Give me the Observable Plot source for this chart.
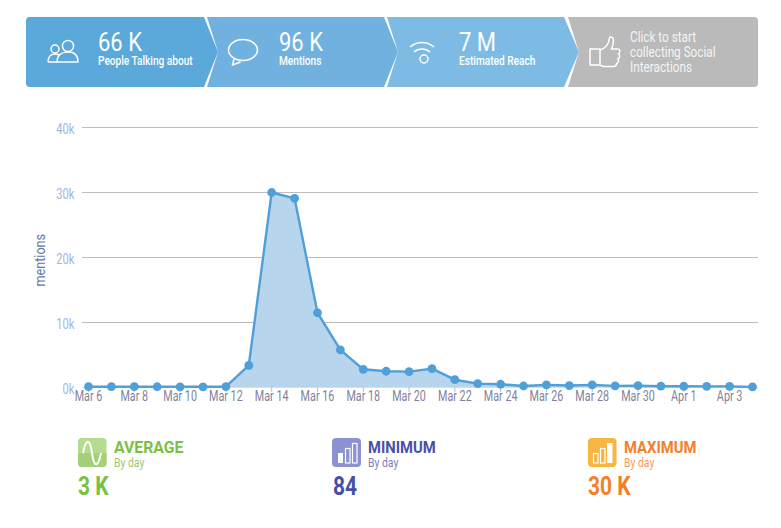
<!DOCTYPE html>
<html><head><meta charset="utf-8">
<script src="https://cdn.jsdelivr.net/npm/d3@7"></script>
<script src="https://cdn.jsdelivr.net/npm/@observablehq/plot@0.6"></script>
<style>
html,body{margin:0;padding:0;background:#fff;width:781px;height:528px;overflow:hidden}
body{position:relative;font-family:"Roboto",sans-serif}
.a{position:absolute;white-space:nowrap;line-height:1;transform-origin:left top}
svg.deco{position:absolute;overflow:visible}
#chart{position:absolute;left:0;top:100px}
.big{color:#fff;font-size:25px;line-height:21px;font-weight:400;transform:scaleX(.88)}
.small{color:#fff;font-size:13.5px;font-weight:500;transform:scaleX(.75)}
.cta{color:#f4f4f4;font-size:14.5px;line-height:15px;transform:scaleX(.81)}
.st{font-size:17px;line-height:15px;font-weight:700}
.by{font-size:13px;transform:scaleX(.8)}
.num{font-size:25px;font-weight:700;transform:scaleX(.84)}
</style></head><body>
<svg class="deco" style="left:0;top:0" width="781" height="100" aria-hidden="true">
  <path d="M568 17H754a4 4 0 0 1 4 4V83a4 4 0 0 1-4 4H568L579 52Z" fill="#bababa" stroke="none"/>
  <path d="M387 17H564L579 52L564 87H387L398 52Z" fill="#7dbbe5"/>
  <path d="M207 17H384L398 52L384 87H207L218 52Z" fill="#70b1df"/>
  <path d="M30 17H204L218 52L204 87H30a4 4 0 0 1-4-4V21a4 4 0 0 1 4-4Z" fill="#5ba8da"/>
  <g fill="none" stroke="#fff" stroke-width="1.500">
    <circle cx="68" cy="46" r="5.600"/><path d="M57 62c0-7 5-10 11-10s10 3 10 10Z"/>
    <circle cx="55" cy="49" r="4"/><path d="M48 62c0-5 3-8 7-8 2 0 3 .5 4 1M48 62h10"/>
    <ellipse cx="243" cy="50" rx="14.500" ry="10.500"/><path d="M234 59l-1.500 6 8-3"/>
    <path d="M410 47c7-6 17-6 24 0"/><path d="M414 52c4.500-4 11.500-4 16 0" /><circle cx="424" cy="59" r="4"/>
    <path d="M590 49h10v16h-10ZM600 50c6-2 9-6 9.500-12 .5-2 4-1 4 2 0 4-1 7-2 9h6c3 0 3 4 1 5 1.500 1 1.500 4-.5 5 1 1.500 .5 4-1.500 4.500 0 2-1 3-3 3h-9c-2 0-3-1-5-1.500"/>
  </g>
</svg>
<div class="a big" style="left:98px;top:32px">66 K</div>
<div class="a small" style="left:98px;top:54px">People Talking about</div>
<div class="a big" style="left:279px;top:32px">96 K</div>
<div class="a small" style="left:279px;top:54px">Mentions</div>
<div class="a big" style="left:459px;top:32px">7 M</div>
<div class="a small" style="left:459px;top:54px">Estimated Reach</div>
<div class="a cta" style="left:630px;top:30px">Click to start<br>collecting Social<br>Interactions</div>
<div id="chart"></div>
<svg class="deco" style="left:0;top:430px" width="781" height="50" aria-hidden="true">
  <rect x="78" y="8" width="28.500" height="29" rx="4" fill="#b5db8d"/>
  <path d="M78 23h28.500v10a4 4 0 0 1-4 4H82a4 4 0 0 1-4-4Z" fill="#a3d078"/>
  <path d="M83 23c3-15 7-15 9 0s6 15 9 0" fill="none" stroke="#fff" stroke-width="2"/>
  <rect x="332" y="8" width="29" height="29" rx="4" fill="#8c91d0"/>
  <g fill="#fff"><rect x="338" y="23" width="5" height="10"/></g>
  <g fill="none" stroke="#fff" stroke-width="1.200"><rect x="345.500" y="18.500" width="4.500" height="14.500"/><rect x="352.500" y="13.500" width="4.500" height="19.500"/></g>
  <rect x="588" y="8" width="28.500" height="29" rx="4" fill="#f7b542"/>
  <g fill="none" stroke="#fff" stroke-width="1.200"><rect x="593.500" y="23.500" width="4.500" height="9.500"/><rect x="600.500" y="18.500" width="4.500" height="14.500"/></g>
  <rect x="607" y="13" width="5.500" height="20" fill="#fff"/>
</svg>
<div class="a st" style="left:114px;top:440px;color:#7ac143;transform:scaleX(.93)">AVERAGE</div>
<div class="a by" style="left:114px;top:456px;color:#9bc96b">By day</div>
<div class="a num" style="left:78px;top:474px;color:#7ac143">3 K</div>
<div class="a st" style="left:368px;top:440px;color:#4a4fa5;transform:scaleX(.87)">MINIMUM</div>
<div class="a by" style="left:368px;top:456px;color:#7d7fb8">By day</div>
<div class="a num" style="left:333px;top:474px;color:#4a4fa5">84</div>
<div class="a st" style="left:624px;top:440px;color:#f57f29;transform:scaleX(.87)">MAXIMUM</div>
<div class="a by" style="left:624px;top:456px;color:#f79a56">By day</div>
<div class="a num" style="left:588px;top:474px;color:#f57f29">30 K</div>
<script>
const startDay = "2015-03-06";
const mentions = [120,120,120,115,110,110,120,3400,30000,29100,11500,5800,2800,2500,2450,2900,1200,600,500,230,400,300,400,250,280,200,190,180,180,84];
const yTicks = [0,10000,20000,30000,40000];
const tickEvery = 2;

const dates = mentions.map((_, i) => d3.utcDay.offset(new Date(startDay), i));
const table = dates.map((date, i) => ({date, value: mentions[i]}));
const xTicks = dates.filter((_, i) => i % tickEvery === 0);

const plot = Plot.plot({
  width: 781, height: 320,
  marginLeft: 88, marginRight: 29, marginTop: 27, marginBottom: 33,
  style: {fontFamily: "Roboto,sans-serif", fontSize: "14px", background: "transparent", overflow: "visible"},
  x: {type: "utc", domain: [dates[0], dates[dates.length - 1]]},
  y: {domain: [0, 40000]},
  marks: [
    Plot.ruleY(yTicks.slice(1), {stroke: "#bdbdbd", strokeWidth: 1, insetLeft: -6, insetRight: -6}),
    Plot.ruleY([0], {stroke: "#d8dde8", strokeWidth: 1, insetLeft: -6, insetRight: -6}),
    Plot.areaY(table, {x: "date", y: "value", fill: "#b7d5ec"}),
    Plot.axisX({ticks: xTicks, tickFormat: d => d3.utcFormat("%b %-d")(d), tickSize: 5, tickPadding: -1, stroke: "#b9bccb", fill: "#7f829c", label: null}),
    Plot.axisY({ticks: yTicks, tickFormat: d => d / 1000 + "k", tickSize: 0, tickPadding: 14, fill: "#9fb6e2", label: null, dy: 2, fontSize: 14}),
    Plot.text(["mentions"], {frameAnchor: "left", dx: -48, dy: 29, rotate: -90, fill: "#5f78ab", fontSize: 14}),
    Plot.lineY(table, {x: "date", y: "value", stroke: "#4f9fd8", strokeWidth: 2.4}),
    Plot.dot(table, {x: "date", y: "value", fill: "#4f9fd8", r: 4.4})
  ]
});
document.getElementById("chart").appendChild(plot);

// The reference face is narrow: condense the axis text to its measured widths.
function condense(selector, k) {
  plot.querySelectorAll(selector).forEach(t => {
    t.setAttribute("textLength", t.getComputedTextLength() * k);
    t.setAttribute("lengthAdjust", "spacingAndGlyphs");
  });
}
condense('g[aria-label="x-axis tick label"] text', 0.77);
condense('g[aria-label="y-axis tick label"] text', 0.8);
condense('g[aria-label="text"] text', 0.9);
</script>
</body></html>
